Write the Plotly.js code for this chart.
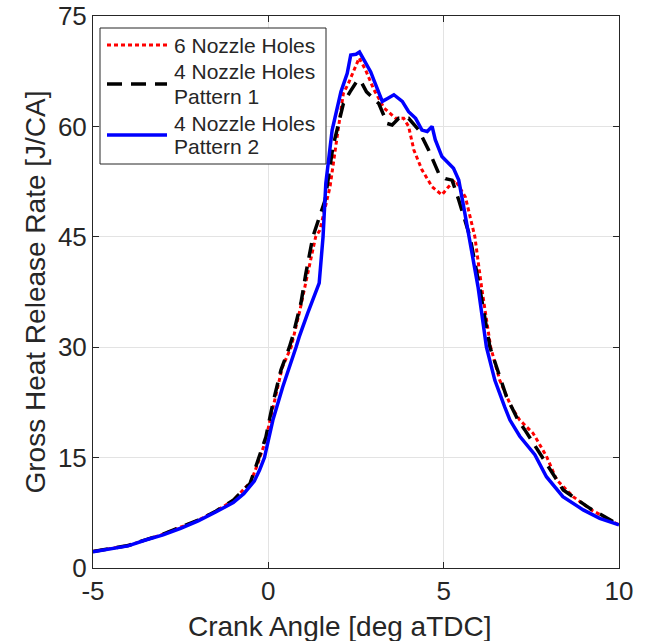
<!DOCTYPE html>
<html>
<head>
<meta charset="utf-8">
<script src="https://cdn.plot.ly/plotly-3.0.1.min.js"></script>
<style>html,body{margin:0;padding:0;background:#fff;}#chart{width:645px;height:641px;}</style>
</head>
<body>
<div id="chart"></div>
<script>
// 6 Nozzle Holes (red dotted)
const redX = [-5, -4, -3, -2, -1.5, -1, -0.5, -0.3, -0.1, 0.13, 0.4, 0.65, 0.9, 1.1, 1.35, 1.47, 1.76, 1.95, 2.14, 2.28, 2.45, 2.59, 2.77, 3.01, 3.3, 3.63, 3.86, 4.0, 4.15, 4.38, 4.67, 4.95, 5.14, 5.33, 5.62, 5.76, 5.89, 6.08, 6.34, 6.6, 6.93, 7.17, 7.55, 7.93, 8.22, 8.69, 9.21, 10];
const redY = [2.25, 3.05, 4.6, 6.5, 7.7, 9.2, 11.7, 14.2, 17.0, 21.8, 27.3, 30.0, 35.0, 39.5, 45.0, 45.9, 51.8, 58.2, 64.5, 65.8, 67.8, 69.3, 67.7, 65.0, 62.5, 61.1, 61.1, 60.0, 56.8, 54.1, 51.8, 50.7, 51.8, 52.7, 50.4, 47.7, 45.0, 38.2, 30.0, 25.5, 21.9, 20.1, 18.3, 15.2, 12.0, 9.7, 7.9, 5.85];
// 4 Nozzle Holes Pattern 1 (black dashed)
const blackX = [-5, -4, -3, -2, -1.5, -1, -0.52, -0.26, -0.07, 0.13, 0.36, 0.6, 0.69, 0.93, 1.07, 1.27, 1.62, 1.84, 2.14, 2.33, 2.52, 2.62, 2.8, 3.15, 3.39, 3.53, 3.72, 4.0, 4.29, 4.57, 4.86, 5.05, 5.24, 5.43, 5.62, 5.75, 6.03, 6.32, 6.79, 7.12, 7.31, 7.69, 7.84, 8.41, 9.17, 10];
const blackY = [2.25, 3.05, 4.6, 6.5, 7.7, 9.2, 11.5, 15.0, 17.8, 22.4, 26.9, 30.0, 31.4, 36.0, 40.0, 45.0, 50.0, 57.2, 63.1, 64.7, 66.1, 66.3, 64.7, 63.1, 60.4, 60.2, 61.1, 61.1, 59.5, 56.8, 53.6, 52.9, 52.7, 50.0, 46.9, 45.0, 38.0, 30.0, 23.3, 20.1, 18.8, 16.0, 14.7, 10.6, 8.1, 5.85];
// 4 Nozzle Holes Pattern 2 (blue solid)
const blueX = [-5, -4.5, -4, -3.5, -3, -2.5, -2, -1.5, -1, -0.7, -0.4, -0.25, -0.11, 0.13, 0.41, 0.79, 0.88, 1.12, 1.45, 1.56, 1.64, 1.82, 2.07, 2.25, 2.35, 2.5, 2.6, 2.73, 2.92, 3.01, 3.25, 3.4, 3.58, 3.82, 4.0, 4.2, 4.38, 4.53, 4.67, 4.76, 4.95, 5.28, 5.43, 5.57, 5.73, 5.98, 6.22, 6.46, 6.74, 6.89, 7.17, 7.6, 7.93, 8.4, 8.98, 9.45, 10];
const blueY = [2.2, 2.6, 3.0, 3.8, 4.5, 5.4, 6.4, 7.6, 8.9, 10.1, 11.8, 13.3, 15.0, 20.1, 24.6, 30.0, 31.4, 34.6, 38.7, 45.0, 52.3, 59.5, 64.7, 67.2, 69.7, 69.8, 70.1, 69.0, 67.4, 66.3, 63.4, 63.8, 64.3, 63.4, 62.0, 61.1, 59.5, 59.3, 60.0, 58.2, 55.9, 54.3, 52.7, 49.1, 45.0, 38.2, 30.0, 25.5, 21.9, 20.1, 17.9, 15.4, 12.4, 9.7, 7.9, 6.75, 5.85];

const seriesNames = ['6 Nozzle Holes', '4 Nozzle Holes<br>Pattern 1', '4 Nozzle Holes<br>Pattern 2'];
const legendLines = [['6 Nozzle Holes'], ['4 Nozzle Holes', 'Pattern 1'], ['4 Nozzle Holes', 'Pattern 2']];
const xTicks = [-5, 0, 5, 10];
const yTicks = [0, 15, 30, 45, 60, 75];
const xTitle = 'Crank Angle [deg aTDC]';
const yTitle = 'Gross Heat Release Rate [J/CA]';

const styles = [
  {color: '#ff0000', width: 3, dash: '4px,3px'},
  {color: '#000000', width: 3.5, dash: '15px,9px'},
  {color: '#0000ff', width: 3.5, dash: 'solid'}
];

const traces = [
  {x: redX, y: redY, name: seriesNames[0], mode: 'lines', line: styles[0], showlegend: false},
  {x: blackX, y: blackY, name: seriesNames[1], mode: 'lines', line: styles[1], showlegend: false},
  {x: blueX, y: blueY, name: seriesNames[2], mode: 'lines', line: styles[2], showlegend: false}
];

// Legend drawn as a framed box in paper coordinates (plot area: 93..619 x, 16..568 y)
const W = 526, H = 552, L = 93, B = 568;
const px = v => (v - L) / W;
const py = v => (B - v) / H;
const symbolY = [45, 84, 135];
const textY = [[45], [71.7, 96.7], [123.3, 146.7]];

const shapes = [
  {type: 'rect', xref: 'paper', yref: 'paper', x0: px(100), x1: px(326), y0: py(164), y1: py(28),
   line: {color: '#262626', width: 1}, fillcolor: '#ffffff', layer: 'above'}
];
const annotations = [
  {text: xTitle, xref: 'paper', yref: 'paper', x: 0.47, y: -0.075, xanchor: 'center', yanchor: 'top',
   showarrow: false, font: {size: 28, color: '#262626'}}
];
styles.forEach((s, i) => {
  shapes.push({type: 'line', xref: 'paper', yref: 'paper', x0: px(107), x1: px(167), y0: py(symbolY[i]), y1: py(symbolY[i]),
    line: {color: s.color, width: s.width, dash: s.dash}, layer: 'above'});
  legendLines[i].forEach((t, j) => {
    annotations.push({text: t, xref: 'paper', yref: 'paper', x: px(173), y: py(textY[i][j]),
      xanchor: 'left', yanchor: 'middle', showarrow: false, borderpad: 0,
      font: {size: 21, color: '#262626'}});
  });
});

const axisCommon = {
  showline: true, linecolor: '#262626', linewidth: 1, mirror: 'ticks',
  ticks: 'inside', ticklen: 6, tickcolor: '#262626', tickwidth: 1,
  showgrid: true, gridcolor: '#e3e3e3', gridwidth: 1, zeroline: false,
  tickfont: {family: 'Liberation Sans, Arial, sans-serif', size: 26, color: '#262626'}
};

const layout = {
  width: 645, height: 641,
  margin: {l: 93, r: 26, t: 16, b: 73},
  paper_bgcolor: '#ffffff', plot_bgcolor: '#ffffff',
  font: {family: 'Liberation Sans, Arial, sans-serif', color: '#262626'},
  xaxis: Object.assign({}, axisCommon, {
    range: [-5, 10], tickvals: xTicks, ticktext: xTicks.map(String)
  }),
  yaxis: Object.assign({}, axisCommon, {
    range: [0, 75], tickvals: yTicks, ticktext: yTicks.map(String),
    title: {text: yTitle, font: {size: 28, color: '#262626'}, standoff: 4}
  }),
  shapes: shapes,
  annotations: annotations,
  showlegend: false
};

Plotly.newPlot('chart', traces, layout, {displayModeBar: false, staticPlot: true});
</script>
</body>
</html>
